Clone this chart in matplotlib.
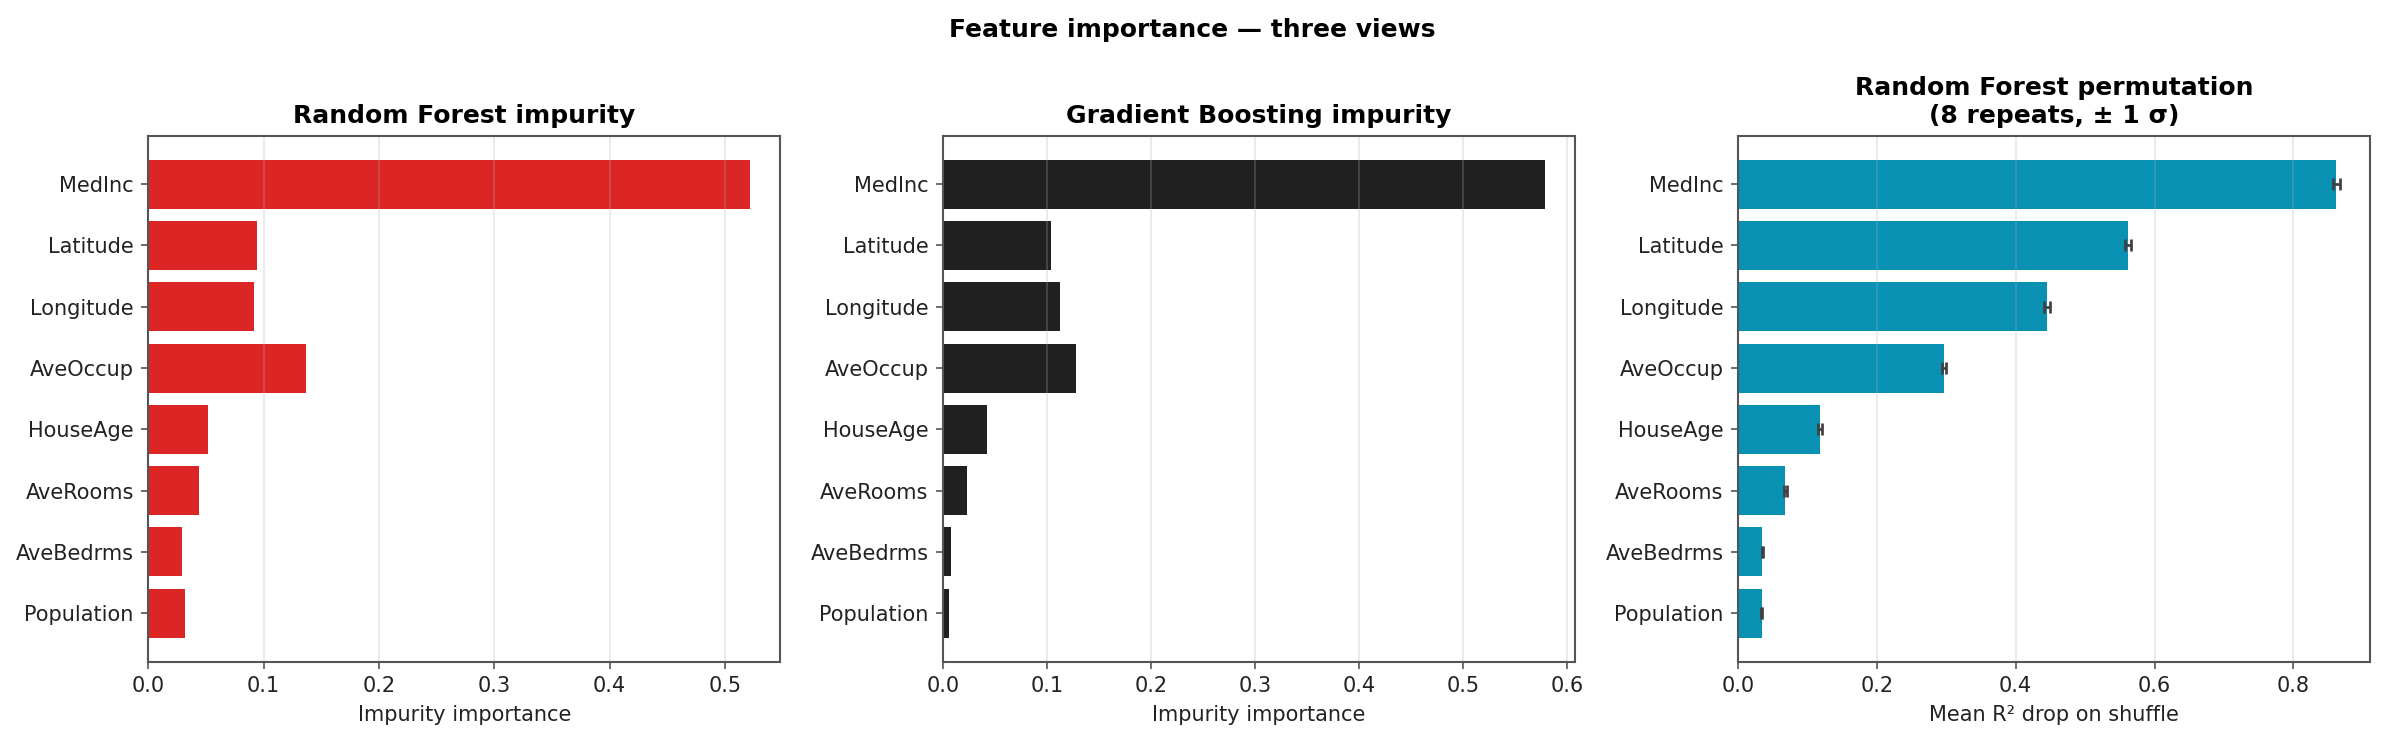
import matplotlib
matplotlib.use("Agg")
import matplotlib.pyplot as plt
import numpy as np

features = ["MedInc", "Latitude", "Longitude", "AveOccup",
            "HouseAge", "AveRooms", "AveBedrms", "Population"]
rf_impurity = [0.522, 0.094, 0.092, 0.137, 0.052, 0.044, 0.029, 0.032]
gb_impurity = [0.579, 0.104, 0.112, 0.128, 0.042, 0.023, 0.008, 0.006]
rf_perm_mean = [0.862, 0.562, 0.445, 0.297, 0.118, 0.068, 0.035, 0.034]
rf_perm_std = [0.005, 0.004, 0.004, 0.003, 0.003, 0.002, 0.001, 0.001]

titles = ["Random Forest impurity", "Gradient Boosting impurity",
          "Random Forest permutation\n(8 repeats, \u00b1 1 \u03c3)"]
xlabels = ["Impurity importance", "Impurity importance", "Mean R\u00b2 drop on shuffle"]
colors = ["#DC2626", "#202020", "#0891B2"]

plt.rcParams["font.family"] = ["DejaVu Sans"]

fig, axes = plt.subplots(1, 3, figsize=(15.9, 740 / 150), dpi=150)
fig.subplots_adjust(left=0.0622, right=0.9937, bottom=0.1058, top=0.8166, wspace=0.2576)

y = np.arange(len(features))
data = [rf_impurity, gb_impurity, rf_perm_mean]
for i, ax in enumerate(axes):
    if i == 2:
        ax.barh(y, data[i], color=colors[i], xerr=rf_perm_std,
                error_kw=dict(ecolor="#404040", elinewidth=1.3, capsize=3, capthick=1.3))
    else:
        ax.barh(y, data[i], color=colors[i])
    ax.set_yticks(y)
    ax.set_yticklabels(features)
    ax.invert_yaxis()
    ax.set_title(titles[i], fontsize=12, fontweight="bold")
    ax.set_xlabel(xlabels[i], fontsize=10, color="#222222")
    ax.grid(axis="x", alpha=0.3)
    ax.tick_params(labelsize=10, colors="#555555", labelcolor="#222222")
    for s in ax.spines.values():
        s.set_color("#555555")
        s.set_linewidth(1.0)

fig.suptitle("Feature importance \u2014 three views", fontsize=12, fontweight="bold", y=0.975)
fig.savefig("out.png", dpi=150)
